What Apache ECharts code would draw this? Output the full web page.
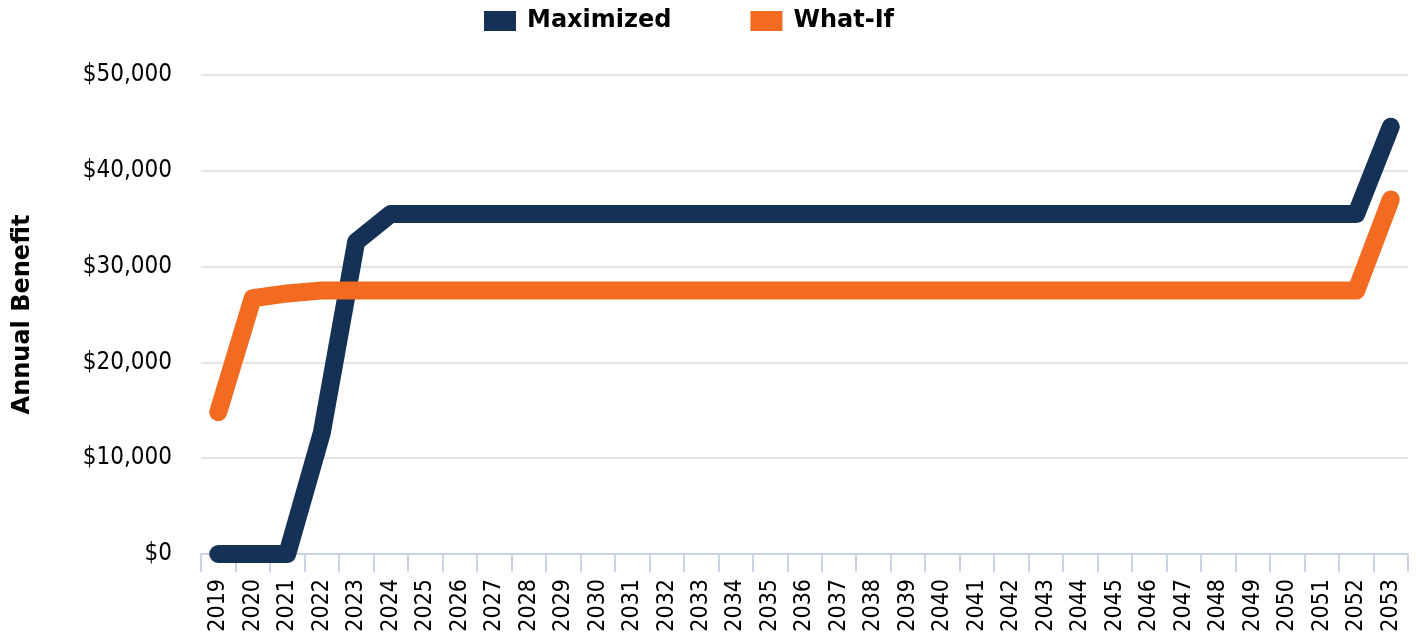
<!DOCTYPE html>
<html><head><meta charset="utf-8">
<script src="https://cdn.jsdelivr.net/npm/echarts@6/dist/echarts.min.js"></script>
<style>html,body{margin:0;padding:0;background:#fff}#c{width:1416px;height:637px}</style>
</head><body><div id="c"></div>
<script>
const years = [];
for (let y = 2019; y <= 2053; y++) years.push(String(y));
const maximized = [0,0,0,12600,32600,35500,35500,35500,35500,35500,35500,35500,35500,35500,35500,35500,35500,35500,35500,35500,35500,35500,35500,35500,35500,35500,35500,35500,35500,35500,35500,35500,35500,35500,44600];
const whatIf = [14800,26700,27200,27500,27500,27500,27500,27500,27500,27500,27500,27500,27500,27500,27500,27500,27500,27500,27500,27500,27500,27500,27500,27500,27500,27500,27500,27500,27500,27500,27500,27500,27500,27500,37000];
const yTicks = {min:0, max:50000, interval:10000};
const labelFont = "'DejaVu Sans Condensed', 'DejaVu Sans'";
const chart = echarts.init(document.getElementById('c'));
chart.setOption({
  animation:false,
  legend:{top:9,left:484,itemWidth:32,itemHeight:20,itemGap:79,icon:'rect',padding:0,
    textStyle:{fontFamily:'DejaVu Sans',fontSize:24,fontWeight:'bold',color:'#000',padding:[0,0,0,6]},
    data:['Maximized','What-If']},
  grid:{left:201,right:8,top:75,bottom:83},
  xAxis:{type:'category',data:years,boundaryGap:true,
    axisLine:{lineStyle:{color:'#c9d4e6',width:2}},
    axisTick:{show:true,length:18,lineStyle:{color:'#c9d4e6',width:2},alignWithLabel:false},
    axisLabel:{rotate:90,fontFamily:labelFont,fontSize:23,color:'#000',margin:25,interval:0}},
  yAxis:{type:'value',min:yTicks.min,max:yTicks.max,interval:yTicks.interval,
    name:'Annual Benefit',nameLocation:'middle',nameGap:166,
    nameTextStyle:{fontFamily:'DejaVu Sans',fontSize:24,fontWeight:'bold',color:'#000'},
    axisLabel:{fontFamily:labelFont,fontSize:24,color:'#000',margin:29,
      formatter:v=>'$'+v.toLocaleString('en-US')},
    splitLine:{lineStyle:{color:'#e3e3e3',width:2}},
    axisLine:{show:false},axisTick:{show:false}},
  series:[
    {name:'Maximized',type:'line',data:maximized,symbol:'none',color:'#153256',
      lineStyle:{width:18,color:'#153256',cap:'round',join:'round'}},
    {name:'What-If',type:'line',data:whatIf,symbol:'none',color:'#f26b21',
      lineStyle:{width:18,color:'#f26b21',cap:'round',join:'round'}}
  ]
});
</script></body></html>
